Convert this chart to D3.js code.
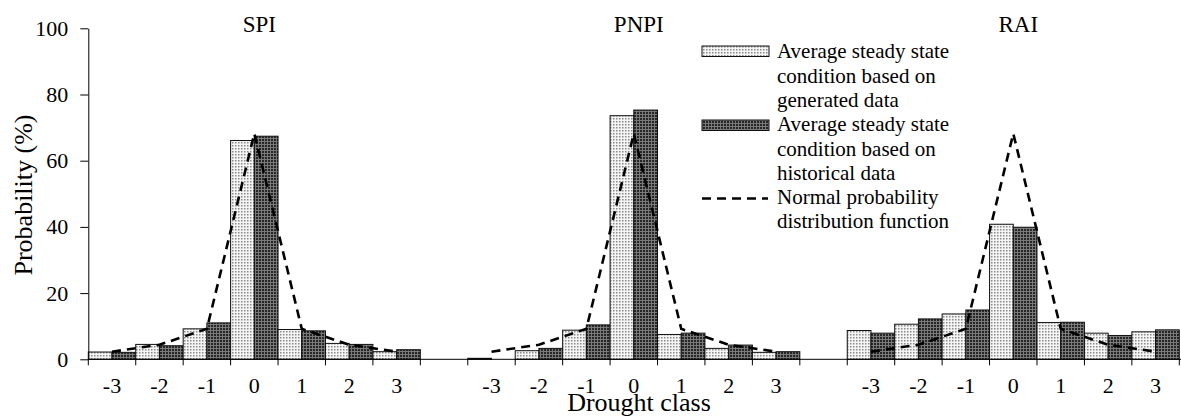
<!DOCTYPE html>
<html>
<head>
<meta charset="utf-8">
<script src="https://cdn.jsdelivr.net/npm/d3@7/dist/d3.min.js"></script>
<style>
  html, body { margin: 0; padding: 0; background: #fff; }
  svg { display: block; }
</style>
</head>
<body>
<svg id="chart" width="1181" height="418"></svg>
<script>
// Drought indices shown side by side, each with classes -3 .. 3
const indices = ["SPI", "PNPI", "RAI"];
const classes = ["-3", "-2", "-1", "0", "1", "2", "3"];

// Average steady state probability (%) from generated data
const generatedSPI  = [2.2, 4.5, 9.2, 66.1, 9.0, 4.8, 2.3];
const generatedPNPI = [0.3, 2.6, 8.8, 73.6, 7.5, 3.3, 2.1];
const generatedRAI  = [8.7, 10.6, 13.7, 40.8, 11.1, 7.9, 8.3];

// Average steady state probability (%) from historical data
const historicalSPI  = [2.1, 4.1, 11.0, 67.4, 8.6, 4.5, 2.9];
const historicalPNPI = [0.0, 3.3, 10.4, 75.3, 7.9, 4.3, 2.3];
const historicalRAI  = [7.9, 12.2, 14.9, 39.9, 11.2, 7.2, 8.9];

// Normal probability distribution of the classes (%)
const normalPDF = [2.3, 4.4, 9.2, 68.2, 9.2, 4.4, 2.3];

const yTicks = [0, 20, 40, 60, 80, 100];

const legendLabels = [
  ["Average steady state", "condition based on", "generated data"],
  ["Average steady state", "condition based on", "historical data"],
  ["Normal probability", "distribution function"]
];

const generated = { SPI: generatedSPI, PNPI: generatedPNPI, RAI: generatedRAI };
const historical = { SPI: historicalSPI, PNPI: historicalPNPI, RAI: historicalRAI };

const SERIF = "'Liberation Serif', 'Times New Roman', serif";

// One band per class, with an empty band between indices
const keys = [];
indices.forEach((idx, i) => {
  classes.forEach(c => keys.push(idx + "|" + c));
  if (i < indices.length - 1) keys.push("gap" + i);
});

const svg = d3.select("#chart");
const plotLeft = 88.3, plotRight = 1179.3, plotTop = 28.3, plotBottom = 359.3;

const x = d3.scaleBand().domain(keys).range([plotLeft, plotRight]).padding(0);
const xs = d3.scaleBand().domain(["gen", "hist"]).range([0, x.bandwidth()]).padding(0);
const y = d3.scaleLinear().domain([0, 100]).range([plotBottom, plotTop]);

// Dotted fills
const defs = svg.append("defs");
const pLight = defs.append("pattern").attr("id", "dotLight")
  .attr("patternUnits", "userSpaceOnUse").attr("width", 3).attr("height", 3);
pLight.append("rect").attr("width", 3).attr("height", 3).attr("fill", "#f4f4f4");
pLight.append("rect").attr("x", 1).attr("y", 1).attr("width", 1.5).attr("height", 1.5).attr("fill", "#8a8a8a");

const pDark = defs.append("pattern").attr("id", "dotDark")
  .attr("patternUnits", "userSpaceOnUse").attr("width", 3).attr("height", 3);
pDark.append("rect").attr("width", 3).attr("height", 3).attr("fill", "#7a7a7a");
pDark.append("rect").attr("x", 1).attr("y", 1).attr("width", 2).attr("height", 2).attr("fill", "#262626");

// Bars
const barData = [];
indices.forEach(idx => {
  classes.forEach((c, i) => {
    barData.push({ key: idx + "|" + c, s: "gen", v: generated[idx][i] });
    barData.push({ key: idx + "|" + c, s: "hist", v: historical[idx][i] });
  });
});

svg.append("g").selectAll("rect").data(barData.filter(d => d.v > 0)).join("rect")
  .attr("x", d => x(d.key) + xs(d.s))
  .attr("y", d => y(d.v))
  .attr("width", xs.bandwidth())
  .attr("height", d => y(0) - y(d.v))
  .attr("fill", d => d.s === "gen" ? "url(#dotLight)" : "url(#dotDark)")
  .attr("stroke", "#111")
  .attr("stroke-width", 1);

// Normal distribution curve, one segment per index
const line = d3.line()
  .x(d => x(d.key) + x.bandwidth() / 2)
  .y(d => y(d.v));

indices.forEach(idx => {
  const pts = classes.map((c, i) => ({ key: idx + "|" + c, v: normalPDF[i] }));
  svg.append("path").datum(pts)
    .attr("d", line)
    .attr("fill", "none")
    .attr("stroke", "#000")
    .attr("stroke-width", 2.6)
    .attr("stroke-dasharray", "9,6");
});

// Y axis
const yAxis = svg.append("g")
  .attr("transform", `translate(${plotLeft},0)`)
  .call(d3.axisLeft(y).tickValues(yTicks).tickSize(8).tickSizeOuter(0).tickPadding(12));
yAxis.attr("font-family", SERIF).attr("font-size", 22);
yAxis.selectAll("text").attr("fill", "#000");
yAxis.selectAll("line, path").attr("stroke", "#000");

// X axis: line, boundary ticks and class labels
const xg = svg.append("g");
xg.append("line").attr("x1", plotLeft).attr("x2", plotRight + 2).attr("y1", plotBottom).attr("y2", plotBottom)
  .attr("stroke", "#000");
const bounds = keys.map(k => x(k)).concat([x(keys[keys.length - 1]) + x.bandwidth()]);
xg.selectAll(".tk").data(bounds).join("line")
  .attr("x1", d => d).attr("x2", d => d)
  .attr("y1", plotBottom).attr("y2", plotBottom + 6)
  .attr("stroke", "#000");
xg.selectAll(".lbl").data(keys.filter(k => k.indexOf("|") > 0)).join("text")
  .attr("x", d => x(d) + x.bandwidth() / 2)
  .attr("y", 393)
  .attr("text-anchor", "middle")
  .attr("font-size", 22)
  .text(d => d.split("|")[1]);

// Index titles
svg.selectAll(".ttl").data(indices).join("text")
  .attr("x", d => x(d + "|0") + x.bandwidth() / 2 + 5)
  .attr("y", 32)
  .attr("text-anchor", "middle")
  .attr("font-size", 23)
  .text(d => d);

// Axis titles
svg.append("text")
  .attr("transform", "translate(32,195) rotate(-90)")
  .attr("text-anchor", "middle")
  .attr("font-size", 26)
  .text("Probability (%)");

svg.append("text")
  .attr("x", 639).attr("y", 411)
  .attr("text-anchor", "middle")
  .attr("font-size", 26)
  .text("Drought class");

// Legend
const lg = svg.append("g");
const lx = 702, tx = 777, lh = 24.3, y0 = 58.3;
lg.append("rect").attr("x", lx).attr("y", 46).attr("width", 67).attr("height", 10.5)
  .attr("fill", "url(#dotLight)").attr("stroke", "#111");
lg.append("rect").attr("x", lx).attr("y", 120).attr("width", 67).attr("height", 10.5)
  .attr("fill", "url(#dotDark)").attr("stroke", "#111");
lg.append("line").attr("x1", lx).attr("x2", lx + 66).attr("y1", 198.5).attr("y2", 198.5)
  .attr("stroke", "#000").attr("stroke-width", 2.6).attr("stroke-dasharray", "9,6");

let row = 0;
legendLabels.forEach(lines => {
  lines.forEach(t => {
    lg.append("text").attr("x", tx).attr("y", y0 + row * lh)
      .attr("font-size", 21).text(t);
    row++;
  });
});

// All labels in a Times-style serif face
svg.selectAll("text").attr("font-family", SERIF).attr("fill", "#000");
</script>
</body>
</html>
